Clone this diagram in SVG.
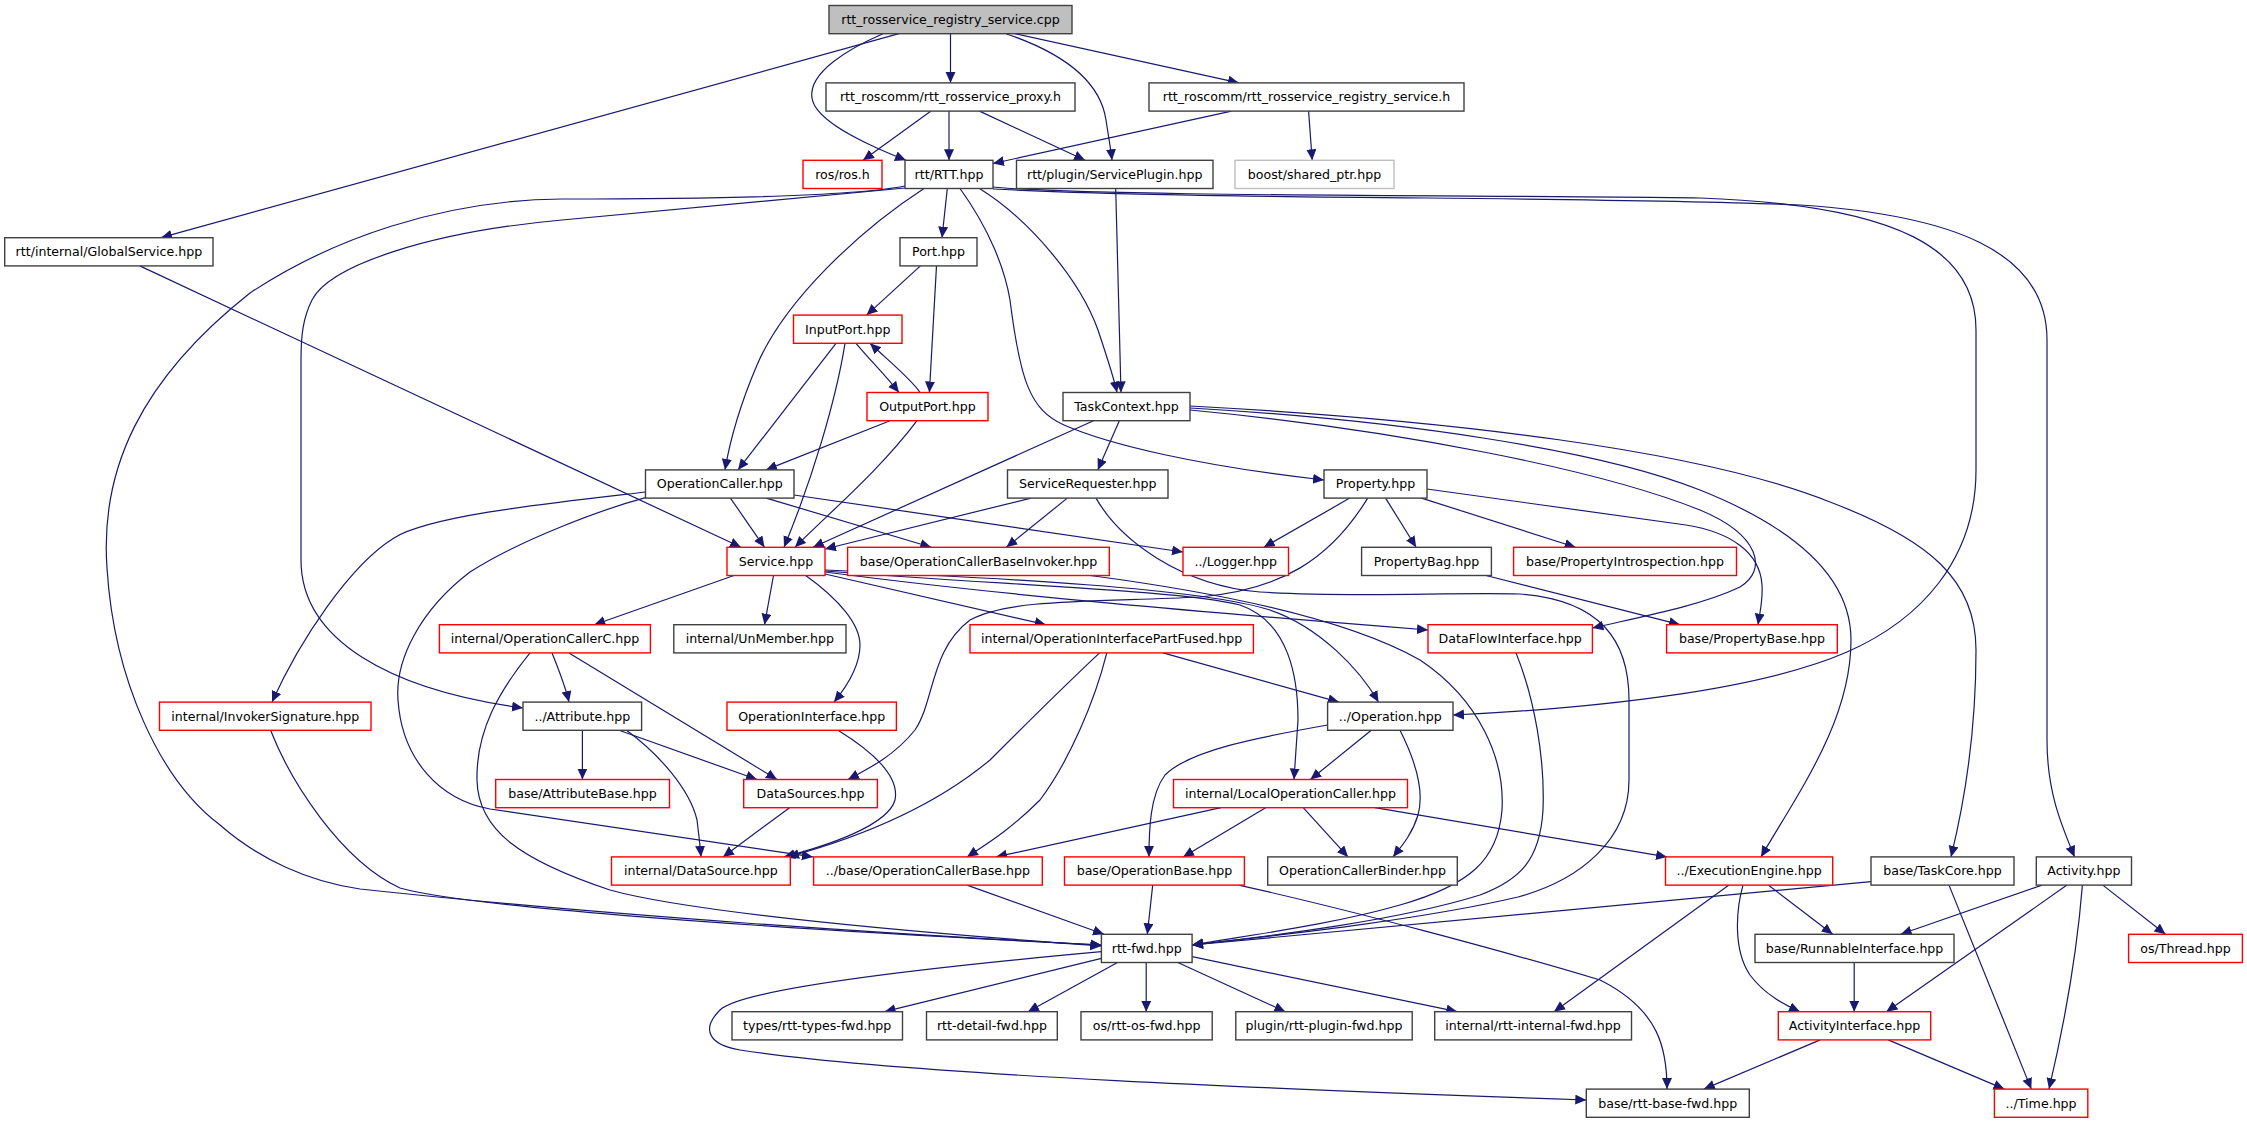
<svg xmlns="http://www.w3.org/2000/svg" width="2247" height="1123" viewBox="0 0 2247 1123">
<style>
.e{fill:none;stroke:#191970;stroke-width:1.2;marker-end:url(#a)}
.n rect{fill:#fff;stroke:#404040;stroke-width:1.4}
.n.r rect{stroke:#ff0000}
.n.g rect{stroke:#bfbfbf}
#root rect{fill:#bfbfbf}
text{font-family:"DejaVu Sans",sans-serif;font-size:12.6px;text-anchor:middle;fill:#000}
</style>
<defs>
<marker id="a" markerUnits="userSpaceOnUse" markerWidth="12" markerHeight="11" refX="11" refY="5" orient="auto"><path d="M0,0 L11,5 L0,10 z" fill="#191970"/></marker>
</defs>
<rect width="2247" height="1123" fill="#fff"/>
<g id="edges">
<path class="e" d="M899,33.7 L161,237.7"/>
<path class="e" d="M883,33.7 C850,48 808,72 812,98 C815,120 860,142 906,160.3"/>
<path class="e" d="M950.5,33.7 L950.5,82.9"/>
<path class="e" d="M1006,33.7 C1060,52 1100,80 1106,120 C1109,140 1111,150 1112,160.3"/>
<path class="e" d="M1015,33.7 L1239,82.9"/>
<path class="e" d="M931,111.1 L863,160.3"/>
<path class="e" d="M949,111.1 L949,160.3"/>
<path class="e" d="M979.5,111.1 L1085,160.3"/>
<path class="e" d="M1231.5,111.1 L993,163.5"/>
<path class="e" d="M1308.6,111.1 L1312.2,160.3"/>
<path class="e" d="M1115.7,188.5 L1121,392.5"/>
<path class="e" d="M139.8,265.9 L741,547.3"/>
<path class="e" d="M905,186 C850,197 700,199 562,199 C440,200 330,240 250,293 C140,380 100,470 107,568 C114,680 160,780 220,825 C260,860 310,882 360,889 C600,915 900,935 1101.4,945"/>
<path class="e" d="M905,188 L562,220 C430,232 330,265 312,300 C303,318 301,335 301,360 L301,560 C301,640 390,690 523,708"/>
<path class="e" d="M924,188.5 C860,230 785,300 757,365 C740,405 730,440 725,469.9"/>
<path class="e" d="M947.3,188.5 L942,237.7"/>
<path class="e" d="M979.5,188.5 C1030,220 1080,280 1098,330 C1108,360 1114,378 1117,392.5"/>
<path class="e" d="M960,188.5 C990,230 1005,270 1010,300 C1020,380 1030,410 1064,425 C1110,445 1200,466 1324,480"/>
<path class="e" d="M993,187 C1100,197 1500,195 1700,198 C1900,205 1976,250 1976,330 L1976,470 C1976,560 1920,620 1847,652 C1760,690 1600,708 1453,715"/>
<path class="e" d="M993,189 C1200,200 1600,196 1800,205 C1950,215 2047,250 2047,340 L2047,740 C2047,790 2060,822 2074.6,856.9"/>
<path class="e" d="M920.4,265.9 L866.6,315.1"/>
<path class="e" d="M936.5,265.9 L929.4,392.5"/>
<path class="e" d="M856,343.3 C870,360 886,376 899,392.5"/>
<path class="e" d="M920,392.5 C912,380 890,362 870,343.3"/>
<path class="e" d="M836,343.3 L738,469.9"/>
<path class="e" d="M845,343.3 C836,400 812,480 784,547.3"/>
<path class="e" d="M890,420.7 L766,469.9"/>
<path class="e" d="M917,420.7 C880,470 830,512 795,547.3"/>
<path class="e" d="M1093.5,420.7 L813,547.3"/>
<path class="e" d="M1119.3,420.7 L1097.8,469.9"/>
<path class="e" d="M1190,410 C1400,430 1600,470 1700,510 C1760,535 1768,570 1740,587 C1700,606 1640,617 1592.4,628"/>
<path class="e" d="M1190,408 C1400,420 1600,450 1700,490 C1800,530 1851,580 1851,640 C1851,720 1800,790 1761,856.9"/>
<path class="e" d="M1190,406 C1450,420 1700,450 1830,502 C1930,540 1976,580 1976,650 C1976,730 1965,800 1951,856.9"/>
<path class="e" d="M1031,498.1 L825,549"/>
<path class="e" d="M1067.3,498.1 L1006.4,547.3"/>
<path class="e" d="M1096,498.1 C1120,540 1180,585 1260,592 C1350,598 1450,592 1520,594 C1600,600 1629,640 1629,700 L1629,780 C1629,840 1580,880 1518,897 C1420,920 1280,935 1192.1,945"/>
<path class="e" d="M1349.8,498.1 L1263.8,547.3"/>
<path class="e" d="M1385.6,498.1 L1416.1,547.3"/>
<path class="e" d="M1421.5,498.1 L1575.6,547.3"/>
<path class="e" d="M1427,489 L1686,525 C1730,532 1760,552 1762,585 C1763,600 1760,612 1758,624.7"/>
<path class="e" d="M1367.7,498.1 C1330,560 1280,590 1200,597 C1100,602 1010,598 970,620 C930,650 935,700 915,730 C895,755 870,768 848,779.5"/>
<path class="e" d="M1486,575.5 L1680,624.7"/>
<path class="e" d="M730.4,498.1 L764.5,547.3"/>
<path class="e" d="M766.3,498.1 L931.2,547.3"/>
<path class="e" d="M794,495 L1183,552"/>
<path class="e" d="M645.5,492 C560,502 430,515 394,538 C350,565 300,640 272,702.1"/>
<path class="e" d="M645.5,497.7 C600,510 520,540 470,572 C420,610 395,660 398,700 C402,760 440,800 490,809 L812.9,856.9"/>
<path class="e" d="M734,575.5 L594.3,624.7"/>
<path class="e" d="M773.5,575.5 L764.5,624.7"/>
<path class="e" d="M805.7,575.5 C840,600 860,625 860,645 C860,665 848,685 834,702.1"/>
<path class="e" d="M825,574 L1045.8,624.7"/>
<path class="e" d="M825,572 C1000,595 1200,612 1428,630"/>
<path class="e" d="M825,570 C1000,578 1200,588 1270,610 C1320,627 1360,670 1378.5,702.1"/>
<path class="e" d="M825,571 C1000,585 1180,590 1240,605 C1290,622 1298,680 1298,720 L1294,779.5"/>
<path class="e" d="M1090,575.5 C1200,590 1340,615 1420,660 C1480,700 1505,760 1502,810 C1498,860 1470,885 1400,905 C1330,925 1250,935 1192.1,945"/>
<path class="e" d="M552,652.9 C558,668 565,685 569,702.1"/>
<path class="e" d="M569,652.9 L777,779.5"/>
<path class="e" d="M530,652.9 C500,690 476,730 477,780 C478,830 520,860 610,890 C700,915 950,935 1101.4,946"/>
<path class="e" d="M270.6,730.3 C290,780 340,860 400,888 C460,905 700,925 1101.4,945"/>
<path class="e" d="M582.4,730.3 L582.4,779.5"/>
<path class="e" d="M619,730.3 L757,779.5"/>
<path class="e" d="M626.5,730.3 C660,755 690,790 697,820 C699,835 700,845 701,856.9"/>
<path class="e" d="M838,730.3 C870,750 900,775 895,800 C888,825 830,845 784,856.9"/>
<path class="e" d="M1163,652.9 L1339,702.1"/>
<path class="e" d="M1099.6,652.9 C1060,690 1020,730 990,760 C930,810 850,840 788,856.9"/>
<path class="e" d="M1106.8,652.9 C1095,700 1070,760 1040,800 C1010,830 985,845 967,856.9"/>
<path class="e" d="M789.6,807.7 L723,856.9"/>
<path class="e" d="M967,885.1 L1104,934.3"/>
<path class="e" d="M1327.6,725 C1260,737 1190,750 1165,775 C1150,795 1149,830 1149,856.9"/>
<path class="e" d="M1371.3,730.3 L1310.4,779.5"/>
<path class="e" d="M1400,730.3 C1415,760 1425,790 1418,815 C1412,835 1400,848 1393,856.9"/>
<path class="e" d="M1221,807.7 L996,856.9"/>
<path class="e" d="M1265.6,807.7 L1183.1,856.9"/>
<path class="e" d="M1303.2,807.7 L1348,856.9"/>
<path class="e" d="M1374.9,807.7 L1667,856.9"/>
<path class="e" d="M1152.7,885.1 L1147.3,934.3"/>
<path class="e" d="M1238.7,885.1 C1350,910 1500,950 1600,980 C1660,1010 1667,1050 1667,1089.1"/>
<path class="e" d="M1516,652.9 C1535,700 1545,760 1543,810 C1540,860 1520,880 1480,895 C1400,920 1280,935 1192.1,945"/>
<path class="e" d="M1871,881.7 L1192.1,945"/>
<path class="e" d="M1729,885.1 L1554,1011.7"/>
<path class="e" d="M1768.3,885.1 L1832.7,934.3"/>
<path class="e" d="M1743,885.1 C1736,910 1733,950 1750,975 C1765,995 1785,1005 1800,1011.7"/>
<path class="e" d="M1949,885.1 L2031.3,1089.1"/>
<path class="e" d="M2042,885.1 L1900.7,934.3"/>
<path class="e" d="M2067,885.1 L1886.4,1011.7"/>
<path class="e" d="M2082.4,885.1 C2078,940 2070,1000 2049,1089.1"/>
<path class="e" d="M2102.8,885.1 L2165.5,934.3"/>
<path class="e" d="M1854.2,962.5 L1854.2,1011.7"/>
<path class="e" d="M1820.2,1039.9 L1703.9,1089.1"/>
<path class="e" d="M1888.2,1039.9 L2004.4,1089.1"/>
<path class="e" d="M1101.4,951.7 C900,970 740,990 720,1010 C700,1030 710,1045 740,1050 C900,1075 1300,1090 1586.3,1100"/>
<path class="e" d="M1101.4,958.3 L884.6,1011.7"/>
<path class="e" d="M1117.5,962.5 L1028,1011.7"/>
<path class="e" d="M1146.2,962.5 L1146.2,1011.7"/>
<path class="e" d="M1177.8,962.5 L1285.3,1011.7"/>
<path class="e" d="M1192.1,956.7 L1457.3,1011.7"/>
</g>
<g id="root" class="n"><rect x="829" y="5.5" width="243" height="28.2"/><text x="950.5" y="24">rtt_rosservice_registry_service.cpp</text></g>
<g id="proxy" class="n"><rect x="826" y="82.9" width="249" height="28.2"/><text x="950.5" y="101.4">rtt_roscomm/rtt_rosservice_proxy.h</text></g>
<g id="regh" class="n"><rect x="1149" y="82.9" width="315" height="28.2"/><text x="1306.5" y="101.4">rtt_roscomm/rtt_rosservice_registry_service.h</text></g>
<g id="ros" class="n r"><rect x="803" y="160.3" width="79" height="28.2"/><text x="842.5" y="178.8">ros/ros.h</text></g>
<g id="rtt" class="n"><rect x="905" y="160.3" width="88" height="28.2"/><text x="949" y="178.8">rtt/RTT.hpp</text></g>
<g id="serviceplugin" class="n"><rect x="1016.5" y="160.3" width="196.5" height="28.2"/><text x="1114.75" y="178.8">rtt/plugin/ServicePlugin.hpp</text></g>
<g id="boost" class="n g"><rect x="1235" y="160.3" width="159" height="28.2"/><text x="1314.5" y="178.8">boost/shared_ptr.hpp</text></g>
<g id="globalservice" class="n"><rect x="4.7" y="237.7" width="208.3" height="28.2"/><text x="108.9" y="256.2">rtt/internal/GlobalService.hpp</text></g>
<g id="port" class="n"><rect x="900" y="237.7" width="77" height="28.2"/><text x="938.5" y="256.2">Port.hpp</text></g>
<g id="inputport" class="n r"><rect x="793.5" y="315.1" width="108.5" height="28.2"/><text x="847.75" y="333.6">InputPort.hpp</text></g>
<g id="outputport" class="n r"><rect x="867" y="392.5" width="121" height="28.2"/><text x="927.5" y="411">OutputPort.hpp</text></g>
<g id="taskcontext" class="n"><rect x="1063" y="392.5" width="127" height="28.2"/><text x="1126.5" y="411">TaskContext.hpp</text></g>
<g id="operationcaller" class="n"><rect x="645.5" y="469.9" width="148.5" height="28.2"/><text x="719.75" y="488.4">OperationCaller.hpp</text></g>
<g id="servicerequester" class="n"><rect x="1007.5" y="469.9" width="160.5" height="28.2"/><text x="1087.75" y="488.4">ServiceRequester.hpp</text></g>
<g id="property" class="n"><rect x="1324" y="469.9" width="103" height="28.2"/><text x="1375.5" y="488.4">Property.hpp</text></g>
<g id="service" class="n r"><rect x="727" y="547.3" width="98" height="28.2"/><text x="776" y="565.8">Service.hpp</text></g>
<g id="ocbaseinvoker" class="n r"><rect x="847.6" y="547.3" width="261.7" height="28.2"/><text x="978.45" y="565.8">base/OperationCallerBaseInvoker.hpp</text></g>
<g id="logger" class="n r"><rect x="1183" y="547.3" width="105.5" height="28.2"/><text x="1235.75" y="565.8">../Logger.hpp</text></g>
<g id="propertybag" class="n"><rect x="1361.6" y="547.3" width="129.8" height="28.2"/><text x="1426.5" y="565.8">PropertyBag.hpp</text></g>
<g id="propintro" class="n r"><rect x="1513.6" y="547.3" width="222.9" height="28.2"/><text x="1625" y="565.8">base/PropertyIntrospection.hpp</text></g>
<g id="opcallerc" class="n r"><rect x="439.4" y="624.7" width="211" height="28.2"/><text x="545" y="643.2">internal/OperationCallerC.hpp</text></g>
<g id="unmember" class="n"><rect x="673.8" y="624.7" width="172.2" height="28.2"/><text x="759.9" y="643.2">internal/UnMember.hpp</text></g>
<g id="oipf" class="n r"><rect x="970" y="624.7" width="283.4" height="28.2"/><text x="1111.7" y="643.2">internal/OperationInterfacePartFused.hpp</text></g>
<g id="dataflow" class="n r"><rect x="1428" y="624.7" width="164.4" height="28.2"/><text x="1510.2" y="643.2">DataFlowInterface.hpp</text></g>
<g id="propertybase" class="n r"><rect x="1666.6" y="624.7" width="170.7" height="28.2"/><text x="1752" y="643.2">base/PropertyBase.hpp</text></g>
<g id="invokersig" class="n r"><rect x="159.5" y="702.1" width="211.5" height="28.2"/><text x="265.25" y="720.6">internal/InvokerSignature.hpp</text></g>
<g id="attribute" class="n"><rect x="523" y="702.1" width="118.6" height="28.2"/><text x="582.3" y="720.6">../Attribute.hpp</text></g>
<g id="opinterface" class="n r"><rect x="727" y="702.1" width="169.4" height="28.2"/><text x="811.7" y="720.6">OperationInterface.hpp</text></g>
<g id="operation" class="n"><rect x="1327.6" y="702.1" width="125.4" height="28.2"/><text x="1390.3" y="720.6">../Operation.hpp</text></g>
<g id="attributebase" class="n r"><rect x="495.7" y="779.5" width="173.8" height="28.2"/><text x="582.6" y="798">base/AttributeBase.hpp</text></g>
<g id="datasources" class="n r"><rect x="743.7" y="779.5" width="133.7" height="28.2"/><text x="810.55" y="798">DataSources.hpp</text></g>
<g id="localopcaller" class="n r"><rect x="1173.5" y="779.5" width="234" height="28.2"/><text x="1290.5" y="798">internal/LocalOperationCaller.hpp</text></g>
<g id="datasource" class="n r"><rect x="611.5" y="856.9" width="178.8" height="28.2"/><text x="700.9" y="875.4">internal/DataSource.hpp</text></g>
<g id="opcallerbase" class="n r"><rect x="813.6" y="856.9" width="228.7" height="28.2"/><text x="927.95" y="875.4">../base/OperationCallerBase.hpp</text></g>
<g id="operationbase" class="n r"><rect x="1064.5" y="856.9" width="179.9" height="28.2"/><text x="1154.45" y="875.4">base/OperationBase.hpp</text></g>
<g id="opcallerbinder" class="n"><rect x="1267.7" y="856.9" width="189.6" height="28.2"/><text x="1362.5" y="875.4">OperationCallerBinder.hpp</text></g>
<g id="execengine" class="n r"><rect x="1665.5" y="856.9" width="167.2" height="28.2"/><text x="1749.1" y="875.4">../ExecutionEngine.hpp</text></g>
<g id="taskcore" class="n"><rect x="1871" y="856.9" width="143" height="28.2"/><text x="1942.5" y="875.4">base/TaskCore.hpp</text></g>
<g id="activity" class="n"><rect x="2036.3" y="856.9" width="95.2" height="28.2"/><text x="2083.9" y="875.4">Activity.hpp</text></g>
<g id="rttfwd" class="n"><rect x="1101.4" y="934.3" width="90.7" height="28.2"/><text x="1146.75" y="952.8">rtt-fwd.hpp</text></g>
<g id="runnable" class="n"><rect x="1755" y="934.3" width="199" height="28.2"/><text x="1854.5" y="952.8">base/RunnableInterface.hpp</text></g>
<g id="thread" class="n r"><rect x="2128.6" y="934.3" width="113.8" height="28.2"/><text x="2185.5" y="952.8">os/Thread.hpp</text></g>
<g id="typesfwd" class="n"><rect x="732" y="1011.7" width="170.5" height="28.2"/><text x="817.25" y="1030.2">types/rtt-types-fwd.hpp</text></g>
<g id="detailfwd" class="n"><rect x="926.5" y="1011.7" width="130.8" height="28.2"/><text x="991.9" y="1030.2">rtt-detail-fwd.hpp</text></g>
<g id="osfwd" class="n"><rect x="1081" y="1011.7" width="131.2" height="28.2"/><text x="1146.6" y="1030.2">os/rtt-os-fwd.hpp</text></g>
<g id="pluginfwd" class="n"><rect x="1235.8" y="1011.7" width="176.4" height="28.2"/><text x="1324" y="1030.2">plugin/rtt-plugin-fwd.hpp</text></g>
<g id="internalfwd" class="n"><rect x="1434.7" y="1011.7" width="196.8" height="28.2"/><text x="1533.1" y="1030.2">internal/rtt-internal-fwd.hpp</text></g>
<g id="activityinterface" class="n r"><rect x="1778.3" y="1011.7" width="152.4" height="28.2"/><text x="1854.5" y="1030.2">ActivityInterface.hpp</text></g>
<g id="basefwd" class="n"><rect x="1586.3" y="1089.1" width="163" height="28.2"/><text x="1667.8" y="1107.6">base/rtt-base-fwd.hpp</text></g>
<g id="time" class="n r"><rect x="1994.4" y="1089.1" width="93.4" height="28.2"/><text x="2041.1" y="1107.6">../Time.hpp</text></g>
</svg>
